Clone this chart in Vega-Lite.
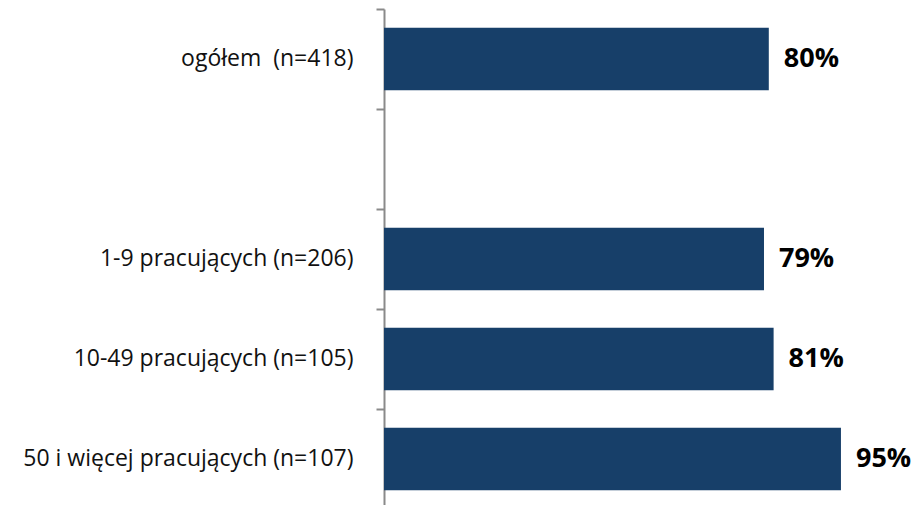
{
  "$schema": "https://vega.github.io/schema/vega-lite/v6.json",
  "autosize": {"type": "none"},
  "padding": {"left": 384, "top": 9, "right": 52, "bottom": 0},
  "width": 481,
  "height": 500,
  "background": "white",
  "config": {"view": {"stroke": null}, "font": "Open Sans"},
  "data": {
    "values": [
      {"grupa": "ogółem \u00a0(n=418)", "udzial": 0.80},
      {"grupa": "1-9 pracujących (n=206)", "udzial": 0.79},
      {"grupa": "10-49 pracujących (n=105)", "udzial": 0.81},
      {"grupa": "50 i więcej pracujących (n=107)", "udzial": 0.95}
    ]
  },
  "encoding": {
    "y": {
      "field": "grupa",
      "type": "nominal",
      "sort": null,
      "scale": {
        "domain": ["ogółem \u00a0(n=418)", " ", "1-9 pracujących (n=206)", "10-49 pracujących (n=105)", "50 i więcej pracujących (n=107)"],
        "paddingInner": 0.375,
        "paddingOuter": 0.1875
      },
      "axis": {
        "title": null,
        "bandPosition": -0.3,
        "tickSize": 8,
        "tickColor": "#8A8A8A",
        "tickWidth": 2,
        "domainColor": "#8A8A8A",
        "domainWidth": 2,
        "labelPadding": 23,
        "labelFontSize": 23,
        "labelColor": "#111111",
        "labelFont": "Open Sans",
        "labelLimit": 400
      }
    },
    "x": {
      "field": "udzial",
      "type": "quantitative",
      "scale": {"domain": [0, 1]},
      "axis": null
    }
  },
  "layer": [
    {"mark": {"type": "bar", "color": "#173F69"}},
    {
      "mark": {"type": "text", "align": "left", "dx": 15, "fontSize": 27, "fontWeight": "bold", "color": "#000000", "font": "Open Sans"},
      "encoding": {"text": {"field": "udzial", "type": "quantitative", "format": ".0%"}}
    }
  ]
}
